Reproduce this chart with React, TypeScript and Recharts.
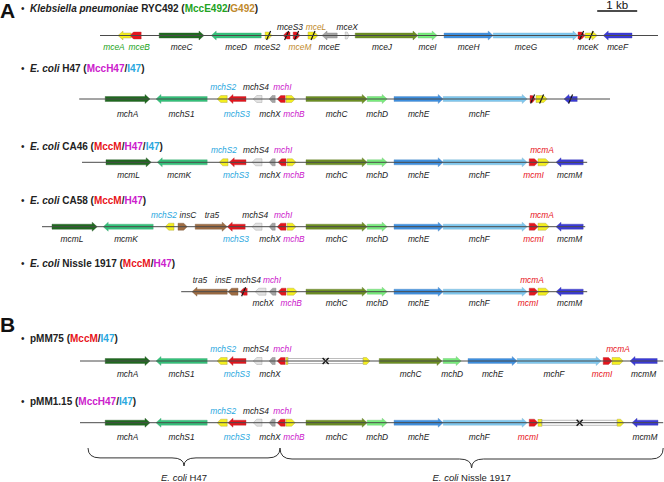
import React from "react";
import {
  ComposedChart,
  XAxis,
  YAxis,
  ReferenceArea,
  ReferenceLine,
  Scatter,
} from "recharts";

const WIDTH = 664;
const HEIGHT = 482;
const FONT = "'Liberation Sans', Arial, Helvetica, sans-serif";

// x runs in kb (1 kb scale bar), y in px from the top of the figure
const SPAN_KB = 16.6;

// [name, start kb, end kb, strand, fill, label side, label colour, mark, label x]
type Gene = [string, number, number, number, string, string?, string?, string?, number?];

const klebGenes: Gene[] = [
  ["mceA", 2.95, 3.28, -1, "yellow", "b", "g", "", 2.85],
  ["mceB", 3.25, 3.53, -1, "red", "b", "g", "", 3.48],
  ["mceC", 3.98, 5.1, 1, "dkgreen", "b", "k"],
  ["mceD", 5.28, 6.53, -1, "green", "b", "k"],
  ["mceS2", 6.63, 6.8, 1, "yellow", "b", "k", "/", 6.68],
  ["mceS3", 7.08, 7.25, -1, "red", "a", "k", "/", 7.25],
  ["mceM", 7.33, 7.5, 1, "red", "b", "br", "/", 7.5],
  ["mceL", 7.7, 7.95, 1, "yellow", "a", "br", "/", 7.9],
  ["mceE", 8.05, 8.43, -1, "gray", "b", "k", "", 8.23],
  ["mceX", 8.63, 8.73, 1, "ltgray", "a", "k"],
  ["mceJ", 8.88, 10.45, 1, "olive", "b", "k", "", 9.55],
  ["mceI", 10.45, 10.93, 1, "ltgreen", "b", "k"],
  ["mceH", 11.1, 12.33, 1, "blue", "b", "k"],
  ["mceG", 12.33, 14.45, 1, "ltblue", "b", "k", "", 13.15],
  ["", 14.45, 14.63, 1, "red", "", "", "/"],
  ["mceK", 14.63, 14.93, 1, "yellow", "b", "k", "/", 14.7],
  ["mceF", 15.08, 15.8, -1, "navy", "b", "k"],
];

const h47Head: Gene[] = [
  ["mchA", 2.63, 3.75, 1, "dkgreen", "b", "k"],
  ["mchS1", 3.9, 5.18, -1, "green", "b", "k"],
  ["mchS2", 5.43, 5.68, -1, "yellow", "a", "c", "", 5.58],
  ["mchS3", 5.7, 6.15, -1, "red", "b", "c", "", 5.92],
  ["mchS4", 6.33, 6.55, -1, "ltgray", "a", "k", "", 6.4],
  ["mchX", 6.73, 6.88, -1, "gray", "b", "k", "", 6.75],
  ["mchI", 6.93, 7.13, -1, "red", "a", "m", "", 7.06],
];

const mchB: Gene[] = [["mchB", 7.15, 7.38, 1, "yellow", "b", "m", "", 7.35]];

const mchCore: Gene[] = [
  ["mchC", 7.65, 9.18, 1, "olive", "b", "k"],
  ["mchD", 9.18, 9.68, 1, "ltgreen", "b", "k"],
  ["mchE", 9.85, 11.08, 1, "blue", "b", "k"],
  ["mchF", 11.08, 13.18, 1, "ltblue", "b", "k", "", 11.98],
];

const mcmTail: Gene[] = [
  ["mcmI", 13.23, 13.45, 1, "red", "b", "r"],
  ["mcmA", 13.45, 13.73, 1, "yellow", "a", "r", "", 13.55],
  ["mcmM", 13.9, 14.58, -1, "navy", "b", "k"],
];

const h47Remnants: Gene[] = [
  ["", 13.25, 13.38, 1, "red", "", "", "/"],
  ["", 13.4, 13.68, 1, "yellow", "", "", "/"],
  ["", 14.1, 14.43, -1, "navy", "", "", "/"],
];

const ca46Head: Gene[] = [
  ["mcmL", 2.65, 3.78, 1, "dkgreen", "b", "k"],
  ["mcmK", 3.93, 5.18, -1, "green", "b", "k", "", 4.48],
  ["mchS2", 5.48, 5.7, -1, "yellow", "a", "c", "", 5.6],
  ["mchS3", 5.73, 6.15, -1, "red", "b", "c", "", 5.9],
  ["mchS4", 6.3, 6.55, -1, "ltgray", "a", "k", "", 6.4],
  ["mchX", 6.73, 6.88, -1, "gray", "b", "k", "", 6.75],
  ["mchI", 6.95, 7.15, -1, "red", "a", "m", "", 7.08],
  ["mchB", 7.18, 7.4, 1, "yellow", "b", "m", "", 7.35],
];

const ca58Head: Gene[] = [
  ["mcmL", 1.3, 2.43, 1, "dkgreen", "b", "k", "", 1.8],
  ["mcmK", 2.58, 3.83, -1, "green", "b", "k", "", 3.15],
  ["mchS2", 4.13, 4.35, -1, "yellow", "a", "c", "", 4.1],
  ["insC", 4.45, 4.68, 1, "brown", "a", "k", "", 4.7],
  ["tra5", 4.88, 5.68, 1, "brown", "a", "k", "", 5.3],
  ["mchS3", 5.68, 6.13, -1, "red", "b", "c", "", 5.9],
  ["mchS4", 6.3, 6.55, -1, "ltgray", "a", "k", "", 6.38],
  ["mchX", 6.73, 6.88, -1, "gray", "b", "k", "", 6.75],
  ["mchI", 6.93, 7.15, -1, "red", "a", "m", "", 7.08],
  ["mchB", 7.18, 7.4, 1, "yellow", "b", "m", "", 7.35],
];

const nissleHead: Gene[] = [
  ["tra5", 4.8, 5.68, -1, "brown", "a", "k", "", 5.0],
  ["insE", 5.7, 5.95, -1, "brown", "a", "k", "", 5.58],
  ["", 6.0, 6.18, -1, "red", "", "", "/"],
  ["mchS4", 6.38, 6.65, -1, "ltgray", "a", "k", "", 6.2],
  ["mchX", 6.73, 6.9, -1, "gray", "b", "k", "", 6.58],
  ["mchI", 6.95, 7.15, -1, "red", "a", "m", "", 6.8],
  ["mchB", 7.18, 7.43, 1, "yellow", "b", "m", "", 7.28],
];

const nissleTail: Gene[] = [
  ["mcmI", 13.23, 13.45, 1, "red", "b", "r", "", 13.2],
  ["mcmA", 13.45, 13.73, 1, "yellow", "a", "r", "", 13.3],
  ["mcmM", 13.9, 14.58, -1, "navy", "b", "k"],
];

const pmm75Tail: Gene[] = [
  ["", 7.15, 7.2, 1, "yellow", "", "", "stub"],
  ["", 7.2, 9.08, 0, "white", "", "", "del"],
  ["", 9.08, 9.25, 1, "yellow"],
  ["mchC", 9.48, 11.05, 1, "olive", "b", "k"],
  ["mchD", 11.08, 11.53, 1, "ltgreen", "b", "k"],
  ["mchE", 11.7, 12.93, 1, "blue", "b", "k"],
  ["mchF", 12.93, 15.03, 1, "ltblue", "b", "k", "", 13.85],
  ["mcmI", 15.08, 15.3, 1, "red", "b", "r", "", 15.05],
  ["mcmA", 15.3, 15.58, 1, "yellow", "a", "r", "", 15.45],
  ["mcmM", 15.75, 16.43, -1, "navy", "b", "k"],
];

const pmm115Tail: Gene[] = [
  ["mcmI", 13.23, 13.45, 1, "red", "b", "r", "", 13.2],
  ["", 13.45, 13.55, 1, "yellow", "", "", "stub"],
  ["", 13.55, 15.43, 0, "white", "", "", "del"],
  ["", 15.43, 15.6, 1, "yellow"],
  ["mcmM", 15.8, 16.45, -1, "navy", "b", "k"],
];

const rowGenes: Gene[][] = [
  klebGenes,
  [...h47Head, ...mchB, ...mchCore, ...h47Remnants],
  [...ca46Head, ...mchCore, ...mcmTail],
  [...ca58Head, ...mchCore, ...mcmTail],
  [...nissleHead, ...mchCore, ...nissleTail],
  [...h47Head, ...pmm75Tail],
  [...h47Head, ...mchB, ...mchCore, ...pmm115Tail],
];

const rowY = [35.5, 99, 162.3, 226.7, 291.7, 361, 422.7];
const backbone = [
  [2.5, 16.45],
  [1.98, 15.25],
  [2.05, 14.68],
  [1.05, 14.63],
  [4.53, 14.68],
  [2.0, 16.58],
  [2.0, 16.58],
];
const aboveGap = [6, 9.5, 9, 9, 9, 9.5, 9];
const belowGap = [14.5, 17.5, 16, 15, 14.5, 15.5, 17.5];

// title text, split in coloured pieces: [text, style]
type Part = [string, string];
const titleY = [12, 72, 150, 204, 267, 342, 405];
const titleParts: Part[][] = [
  [["Klebsiella pneumoniae", "i"], [" RYC492 (", "k"], ["MccE492", "g"], ["/", "k"], ["G492", "br"], [")", "k"]],
  [["E. coli", "i"], [" H47 (", "k"], ["MccH47", "m"], ["/", "k"], ["I47", "c"], [")", "k"]],
  [["E. coli", "i"], [" CA46 (", "k"], ["MccM", "r"], ["/", "k"], ["H47", "m"], ["/", "k"], ["I47", "c"], [")", "k"]],
  [["E. coli", "i"], [" CA58 (", "k"], ["MccM", "r"], ["/", "k"], ["H47", "m"], [")", "k"]],
  [["E. coli", "i"], [" Nissle 1917 (", "k"], ["MccM", "r"], ["/", "k"], ["H47", "m"], [")", "k"]],
  [["pMM75 (", "k"], ["MccM", "r"], ["/", "k"], ["I47", "c"], [")", "k"]],
  [["pMM1.15 (", "k"], ["MccH47", "m"], ["/", "k"], ["I47", "c"], [")", "k"]],
];

const braces = [
  { x1: 2.2, x2: 7.0, y1: 448, y2: 466, parts: [["E. coli", "i"], [" H47", "k"]] as Part[] },
  { x1: 7.0, x2: 16.58, y1: 448, y2: 468, parts: [["E. coli", "i"], [" Nissle 1917", "k"]] as Part[] },
];

const panelLetters = [
  { t: "A", y: 18 },
  { t: "B", y: 332 },
];
const scaleBar = { x1: 14.93, x2: 15.93, y: 11, label: "1 kb" };

const FILL: Record<string, [string, string]> = {
  dkgreen: ["#1f6a1f", "#2a5a2a"],
  green: ["#33c27a", "#4aa878"],
  olive: ["#6c8f22", "#6a8034"],
  ltgreen: ["#78ee7c", "#6cc070"],
  blue: ["#3d8fe0", "#5a90c8"],
  ltblue: ["#7ec8f0", "#78b0d0"],
  navy: ["#3a3ad8", "#4040b0"],
  red: ["#e5141c", "#b83036"],
  yellow: ["#f4ef1e", "#a8a040"],
  ltgray: ["#e2e2e2", "#9a9a9a"],
  gray: ["#a5a5a5", "#808080"],
  brown: ["#9e6c43", "#7a5a40"],
  white: ["#ffffff", "#a0a0a0"],
};

const TXT: Record<string, string> = {
  k: "#222222",
  i: "#222222",
  g: "#22a322",
  br: "#bf8a2c",
  m: "#cc20cc",
  c: "#2aa8e0",
  r: "#e8141b",
};

function GeneGlyph(props: any) {
  const { x, y, width: w, height, gene } = props;
  const g: Gene = gene;
  const [fill, stroke] = FILL[g[4]];
  const cy = y + height / 2;
  const mark = g[7];
  const cx = x + w / 2;
  if (mark === "del") {
    return (
      <g>
        <rect x={x} y={cy - 2.5} width={w} height={5} fill={fill} stroke={stroke} strokeWidth={0.7} />
        <line x1={cx - 3} y1={cy - 3} x2={cx + 3} y2={cy + 3} stroke="#111" strokeWidth={1.4} />
        <line x1={cx - 3} y1={cy + 3} x2={cx + 3} y2={cy - 3} stroke="#111" strokeWidth={1.4} />
      </g>
    );
  }
  if (mark === "stub") {
    return <rect x={x} y={cy - 3.5} width={w} height={7} fill={fill} stroke={stroke} strokeWidth={0.4} />;
  }
  const small = w < 12;
  const hh = small ? 3.5 : 4.5;
  const bh = small ? 3.5 : 2.5;
  const hl = Math.min(small ? 3.5 : 5, w * 0.5);
  let pts: number[][];
  if (g[3] >= 0) {
    pts = [
      [x, cy - bh], [x + w - hl, cy - bh], [x + w - hl, cy - hh], [x + w, cy],
      [x + w - hl, cy + hh], [x + w - hl, cy + bh], [x, cy + bh],
    ];
  } else {
    pts = [
      [x + w, cy - bh], [x + hl, cy - bh], [x + hl, cy - hh], [x, cy],
      [x + hl, cy + hh], [x + hl, cy + bh], [x + w, cy + bh],
    ];
  }
  return (
    <g>
      <polygon points={pts.map((p) => p.join(",")).join(" ")} fill={fill} stroke={stroke} strokeWidth={0.4} />
      {mark === "/" && (
        <line x1={cx - 2} y1={cy + 4.5} x2={cx + 2} y2={cy - 4.5} stroke="#111" strokeWidth={1.2} />
      )}
    </g>
  );
}

function BraceGlyph(props: any) {
  const { x, y, width: w, height: h } = props;
  const r = 12;
  const m = y + h * 0.55;
  const c = x + w / 2;
  const d = `M${x},${y} Q${x},${m} ${x + r},${m} L${c - r},${m} Q${c},${m} ${c},${y + h} Q${c},${m} ${c + r},${m} L${x + w - r},${m} Q${x + w},${m} ${x + w},${y}`;
  return <path d={d} fill="none" stroke="#333" strokeWidth={1} />;
}

function partsToSpans(parts: Part[], bold: boolean) {
  return parts.map(([t, s], i) => (
    <tspan
      key={i}
      fill={TXT[s]}
      fontStyle={s === "i" ? "italic" : "normal"}
      fontWeight={bold ? "bold" : "normal"}
    >
      {t}
    </tspan>
  ));
}

const geneLabels = rowGenes.flatMap((genes, r) =>
  genes
    .filter((g) => g[5])
    .map((g) => ({
      x: g[8] ?? (g[1] + g[2]) / 2,
      y: g[5] === "a" ? rowY[r] - aboveGap[r] : rowY[r] + belowGap[r],
      text: g[0],
      col: g[6] as string,
    }))
);

const titles = titleParts.map((parts, i) => ({ x: 0.75, y: titleY[i], parts }));
const braceLabels = braces.map((b) => ({ x: (b.x1 + b.x2) / 2, y: 481, parts: b.parts }));
const letters = panelLetters.map((l) => ({ x: 0, y: l.y, t: l.t }));
const scaleText = [{ x: (scaleBar.x1 + scaleBar.x2) / 2, y: 8.5, t: scaleBar.label }];

export default function App() {
  return (
    <div style={{ position: "absolute", left: 0, top: 0, width: WIDTH, height: HEIGHT, background: "#fff" }}>
      <ComposedChart width={WIDTH} height={HEIGHT} margin={{ top: 0, right: 0, bottom: 0, left: 0 }}>
        <XAxis type="number" dataKey="x" domain={[0, SPAN_KB]} allowDataOverflow hide />
        <YAxis type="number" dataKey="y" domain={[0, HEIGHT]} allowDataOverflow reversed hide />

        {backbone.map(([s, e], r) => (
          <ReferenceLine
            key={`bb${r}`}
            segment={[{ x: s, y: rowY[r] }, { x: e, y: rowY[r] }]}
            stroke="#4a4a4a"
            strokeWidth={1}
            ifOverflow="visible"
          />
        ))}

        {rowGenes.map((genes, r) =>
          genes.map((g, i) => (
            <ReferenceArea
              key={`g${r}-${i}`}
              x1={g[1]}
              x2={g[2]}
              y1={rowY[r] - 4.5}
              y2={rowY[r] + 4.5}
              ifOverflow="visible"
              shape={(p: any) => <GeneGlyph {...p} gene={g} />}
            />
          ))
        )}

        {braces.map((b, i) => (
          <ReferenceArea
            key={`br${i}`}
            x1={b.x1}
            x2={b.x2}
            y1={b.y1}
            y2={b.y2}
            ifOverflow="visible"
            shape={(p: any) => <BraceGlyph {...p} />}
          />
        ))}

        <ReferenceLine
          segment={[{ x: scaleBar.x1, y: scaleBar.y }, { x: scaleBar.x2, y: scaleBar.y }]}
          stroke="#111"
          strokeWidth={1.5}
          ifOverflow="visible"
        />

        <Scatter
          data={geneLabels}
          isAnimationActive={false}
          shape={(p: any) => (
            <text
              x={p.cx}
              y={p.cy}
              textAnchor="middle"
              fontFamily={FONT}
              fontSize={8.4}
              fontStyle="italic"
              fill={TXT[p.payload.col]}
            >
              {p.payload.text}
            </text>
          )}
        />

        <Scatter
          data={titles}
          isAnimationActive={false}
          shape={(p: any) => (
            <g>
              <text x={p.cx - 9} y={p.cy} fontFamily={FONT} fontSize={10} fill="#222">
                •
              </text>
              <text x={p.cx} y={p.cy} fontFamily={FONT} fontSize={10}>
                {partsToSpans(p.payload.parts, true)}
              </text>
            </g>
          )}
        />

        <Scatter
          data={braceLabels}
          isAnimationActive={false}
          shape={(p: any) => (
            <text x={p.cx} y={p.cy} textAnchor="middle" fontFamily={FONT} fontSize={9.5}>
              {partsToSpans(p.payload.parts, false)}
            </text>
          )}
        />

        <Scatter
          data={letters}
          isAnimationActive={false}
          shape={(p: any) => (
            <text x={p.cx} y={p.cy} fontFamily={FONT} fontSize={21} fontWeight="bold" fill="#111">
              {p.payload.t}
            </text>
          )}
        />

        <Scatter
          data={scaleText}
          isAnimationActive={false}
          shape={(p: any) => (
            <text x={p.cx} y={p.cy} textAnchor="middle" fontFamily={FONT} fontSize={11.5} fill="#111">
              {p.payload.t}
            </text>
          )}
        />
      </ComposedChart>
    </div>
  );
}
